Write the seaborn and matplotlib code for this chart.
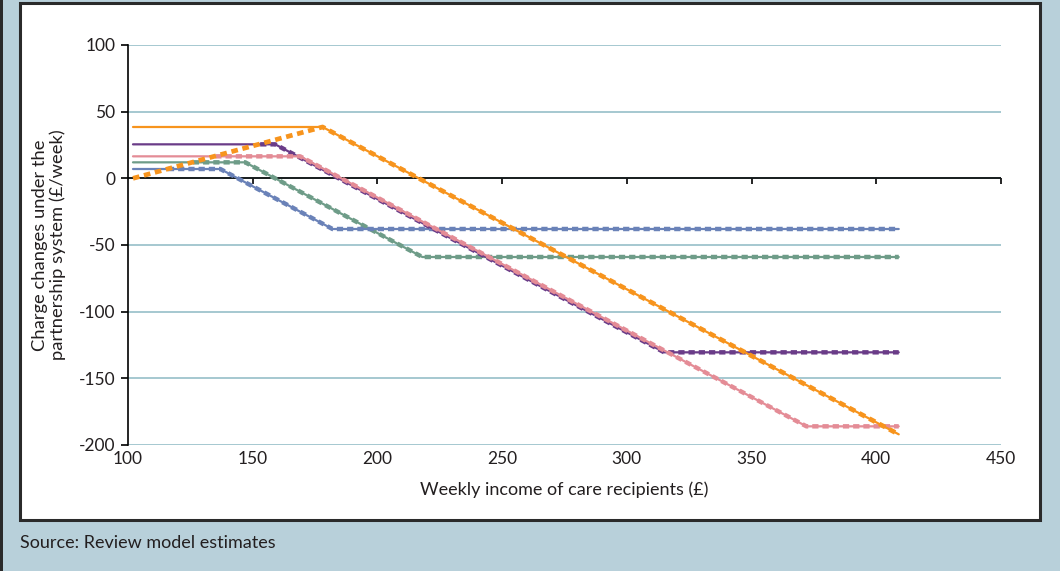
import seaborn as sns
import matplotlib.pyplot as plt
from matplotlib.patches import Rectangle

# Breakpoints of each charge-change series (income in £/week, change in £/week)
income_green = [102, 147, 218, 409]
change_green = [12, 12, -59, -59]
income_green_b = [126, 147, 218, 409]

income_blue = [102, 137, 182, 409]
change_blue = [7, 7, -38, -38]
income_blue_b = [116, 137, 182, 409]

income_purple = [102, 159, 315, 409]
change_purple = [25.5, 25.5, -130.5, -130.5]
income_purple_b = [153, 159, 315, 409]

income_pink = [102, 169, 372, 409]
change_pink = [16.5, 16.5, -186, -186]
income_pink_b = [135, 169, 372, 409]

income_orange = [102, 178, 409]
change_orange = [38.5, 38.5, -192]
change_orange_b = [0, 38.5, -192]

x_ticks = [100, 150, 200, 250, 300, 350, 400, 450]
y_ticks = [-200, -150, -100, -50, 0, 50, 100]

sns.set_style("white")
plt.rcParams['font.family'] = ['Lato', 'DejaVu Sans']
plt.rcParams['axes.unicode_minus'] = False

text_col = '#231F20'
fig = plt.figure(figsize=(10.6, 5.71), dpi=100, facecolor='#B8D0DA')

# white panel with dark border
fig.patches.append(Rectangle((20 / 1060, 1 - 520 / 571), 1020 / 1060, 517 / 571,
                             transform=fig.transFigure, facecolor='white',
                             edgecolor='#2A2A2A', linewidth=2.2, zorder=-10))
fig.patches.append(Rectangle((0, 0), 2.5 / 1060, 1, transform=fig.transFigure,
                             facecolor='#2A2A2A', edgecolor='none', zorder=-10))

ax = fig.add_axes([128 / 1060, 1 - 445 / 571, 873 / 1060, 400 / 571])
ax.set_zorder(1)
ax.set_facecolor('white')

series = [
    (income_green, change_green, income_green_b, change_green, '#6E9C88'),
    (income_blue, change_blue, income_blue_b, change_blue, '#6A82B8'),
    (income_purple, change_purple, income_purple_b, change_purple, '#6A3C88'),
    (income_pink, change_pink, income_pink_b, change_pink, '#E48C96'),
    (income_orange, change_orange, income_orange, change_orange_b, '#F7941D'),
]

for xs, ys, xb, yb, col in series:
    sns.lineplot(x=xs, y=ys, color=col, linewidth=1.6, sort=False,
                 estimator=None, ax=ax, zorder=3)
    line = sns.lineplot(x=xb, y=yb, color=col, linewidth=3.2, sort=False,
                        estimator=None, ax=ax, zorder=3).lines[-1]
    if col == '#F7941D':
        line.set_dashes((1.4, 1.0))
        line.set_linewidth(3.4)
    else:
        line.set_dashes((1.4, 0.9))

ax.set_xlim(100, 450)
ax.set_ylim(-200, 100)
ax.set_xticks(x_ticks)
ax.set_yticks(y_ticks)
ax.set_yticklabels([str(v) for v in y_ticks])
ax.yaxis.grid(True, color='#8DB9C4', linewidth=1.1)
ax.xaxis.grid(False)
ax.set_axisbelow(True)

for s in ['top', 'right', 'bottom']:
    ax.spines[s].set_visible(False)
ax.spines['left'].set_color('black')
ax.spines['left'].set_linewidth(1.2)

ax.tick_params(axis='x', length=0, pad=4, labelsize=12.5, labelcolor=text_col)
ax.tick_params(axis='y', direction='out', length=5, width=1.2, color='black',
               pad=4, labelsize=12.5, labelcolor=text_col, left=True)

# horizontal axis line crossing at zero, with tick marks below it
ax.axhline(0, color='black', linewidth=1.2, zorder=2.5)
sec = ax.secondary_xaxis(2 / 3)
sec.set_xticks(x_ticks[1:])
sec.tick_params(axis='x', direction='in', length=4, width=1.2, color='black',
                labeltop=False, labelbottom=False)
sec.spines['top'].set_visible(False)

ax.set_xlabel('Weekly income of care recipients (£)', fontsize=13,
              color=text_col, labelpad=11)
ax.set_ylabel('Charge changes under the\npartnership system (£/week)',
              fontsize=13.2, color=text_col, labelpad=9, linespacing=1.1)

fig.text(20 / 1060, 1 - 543 / 571, 'Source: Review model estimates',
         fontsize=13, color=text_col, va='center', ha='left')

fig.savefig('out.png', dpi=100, facecolor=fig.get_facecolor())
